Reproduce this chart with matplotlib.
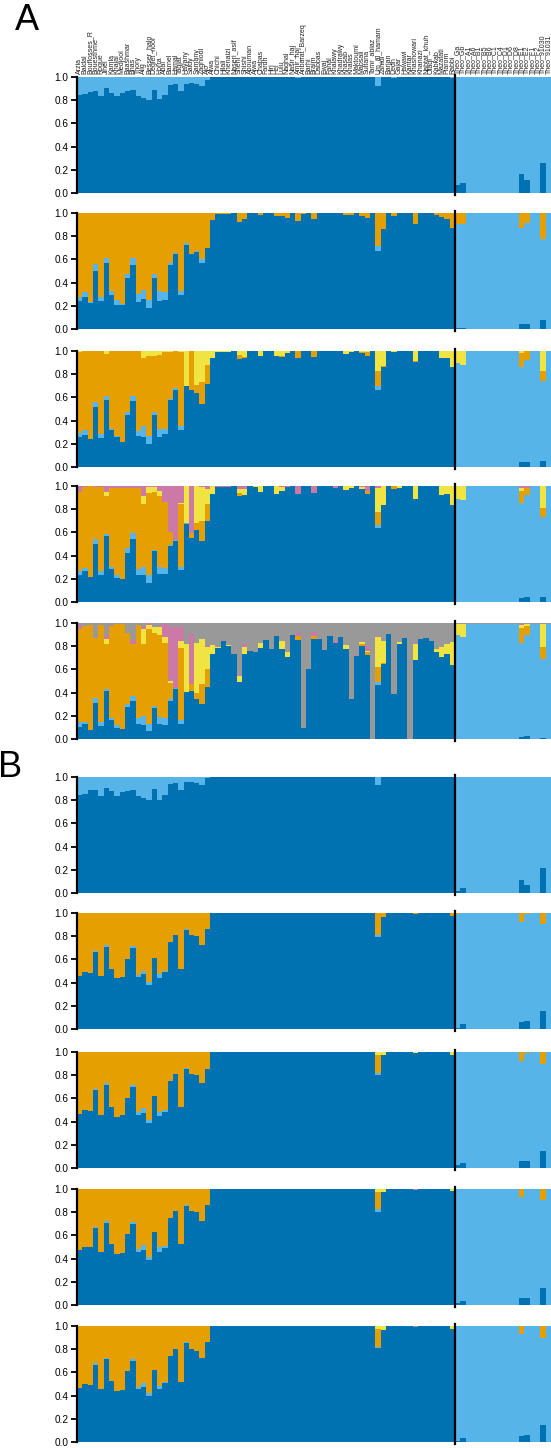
import numpy as np
import matplotlib
matplotlib.use("Agg")
import matplotlib.pyplot as plt

plt.rcParams['font.family'] = ['Liberation Sans', 'DejaVu Sans']

# Sample names (71 date palm cultivars + 18 P. theophrasti)
date_names = ["Arzia", "Baldal", "Bouflosses_R", "Bouesthme", "Rogue", "Jihel", "Kamla",
              "Khalal", "Medjool", "Baashmar", "Bhas", "Thory", "Alig", "Besser_halo",
              "Deglet_noor", "Horra", "Abal", "Barnel", "Hamal", "Tagjat", "Hayany", "Saidy",
              "Samany", "Zaghloul", "Ajo", "Alwa", "Chichi", "Hilali", "Khenaizi",
              "Naseri_asif", "Shehi", "Shishi", "Abouman", "Ajwa", "Chabas", "Fardh", "Hiri",
              "Hel", "Lulu", "Naghal", "Nasir_haj", "Amir_haj", "Anbarat_Barzeq", "Barhi",
              "Braim", "Dabbas", "Ewaj", "Fahal", "Khalawy", "Khadrawy", "Khasab", "Khalas",
              "Maktoumi", "Mabsali", "Sultana", "Tamr_abiaz", "Um_al_hamam", "Zahidi",
              "Barjan", "Dedh", "Gajar", "Hawawi", "Kantar", "Khashowari", "Khanazi",
              "Nabtat_khuh", "Otaqi", "Kabkab", "Mazafati", "Piarom", "Rabbi"]
theo_names = ["Theo_Ga", "Theo_Gb", "Theo_A1", "Theo_A6", "Theo_B1", "Theo_B5", "Theo_B6",
              "Theo_C1", "Theo_C4", "Theo_D1", "Theo_D6", "Theo_D8", "Theo_E1", "Theo_E2",
              "Theo_F1", "Theo_F2", "Theo_91030", "Theo_91031"]
names = date_names + theo_names
N_DATE = len(date_names)
N = len(names)

colors = ['#0072B2', '#56B4E9', '#E69F00', '#F0E442', '#CC79A7', '#999999']

# ---------------- A, K=2 ----------------
a1_dark = [0.843, 0.85, 0.87, 0.88, 0.833, 0.903, 0.86, 0.833, 0.86, 0.88,
           0.885, 0.833, 0.82, 0.80, 0.885, 0.81, 0.843, 0.93, 0.94, 0.88,
           0.94, 0.95, 0.94, 0.92, 0.97, 1, 1, 1, 1, 1,
           1, 1, 1, 1, 1, 1, 1, 1, 1, 1,
           1, 0.99, 1, 1, 1, 1, 1, 1, 1, 1,
           1, 1, 1, 1, 1, 1, 0.925, 1, 1, 0.99,
           1, 1, 1, 1, 1, 1, 1, 1, 1, 1,
           0.99,
           0.073, 0.09, 0, 0, 0, 0, 0, 0, 0, 0, 0, 0, 0.16, 0.11, 0, 0, 0.255, 0]

# ---------------- A, K=3 ----------------
a2_dark = [0.24, 0.28, 0.227, 0.50, 0.24, 0.57, 0.297, 0.21, 0.203, 0.436,
           0.55, 0.233, 0.26, 0.177, 0.438, 0.243, 0.252, 0.556, 0.643, 0.29,
           0.722, 0.643, 0.661, 0.565, 0.696, 0.939, 0.99, 0.995, 0.99, 1,
           0.925, 0.945, 1, 1, 0.985, 1, 1, 0.975, 0.97, 0.96,
           1, 0.935, 0.99, 1, 0.95, 1, 1, 1, 1, 1,
           0.985, 0.985, 1, 0.97, 0.96, 1, 0.67, 0.864, 1, 0.975,
           1, 1, 1, 0.906, 1, 1, 1, 0.985, 0.967, 0.95,
           0.87,
           0.01, 0.01, 0, 0, 0, 0, 0, 0, 0, 0, 0, 0, 0.04, 0.04, 0, 0, 0.08, 0]
a2_light_date = {0: 0.04, 1: 0.04, 2: 0.006, 3: 0.057, 4: 0.04, 5: 0.042, 6: 0.027,
                 7: 0.04, 8: 0.009, 9: 0.042, 10: 0.06, 11: 0.067, 12: 0.08, 13: 0.069,
                 14: 0.032, 15: 0.085, 16: 0.068, 17: 0.015, 18: 0.015, 19: 0.038,
                 20: 0.023, 22: 0.011, 23: 0.038, 56: 0.045}
a2_light_theo = [0.896, 0.896, 1, 1, 1, 1, 1, 1, 1, 1, 1, 1, 0.83, 0.875, 1, 1, 0.70, 1]

# ---------------- A, K=4 ----------------
a3_dark = [0.257, 0.276, 0.24, 0.518, 0.248, 0.58, 0.315, 0.257, 0.218, 0.445,
           0.57, 0.267, 0.257, 0.196, 0.447, 0.259, 0.282, 0.576, 0.663, 0.317,
           0.697, 0.663, 0.637, 0.542, 0.715, 0.94, 0.99, 0.99, 0.99, 1,
           0.931, 0.94, 1, 1, 0.96, 1, 1, 0.955, 0.95, 0.985,
           1, 0.94, 1, 1, 0.95, 1, 1, 1, 1, 1,
           0.97, 0.99, 1, 0.985, 0.955, 1, 0.667, 0.86, 1, 0.99,
           1, 1, 1, 0.905, 1, 1, 1, 1, 0.94, 0.94,
           0.864,
           0, 0, 0, 0, 0, 0, 0, 0, 0, 0, 0, 0, 0.04, 0.04, 0, 0, 0.05, 0]
a3_light_date = {0: 0.04, 1: 0.04, 3: 0.042, 4: 0.04, 5: 0.03, 6: 0.012, 7: 0.01,
                 9: 0.031, 10: 0.042, 11: 0.043, 12: 0.093, 13: 0.069, 14: 0.026,
                 15: 0.072, 16: 0.049, 17: 0.014, 18: 0.014, 19: 0.035, 56: 0.03}
a3_light_theo = [0.9, 0.88, 1, 1, 1, 1, 1, 1, 1, 1, 1, 1, 0.82, 0.88, 1, 1, 0.69, 1]
a3_orange = {0: 0.693, 1: 0.684, 2: 0.76, 3: 0.44, 4: 0.712, 5: 0.366, 6: 0.673,
             7: 0.733, 8: 0.782, 9: 0.524, 10: 0.388, 11: 0.69, 12: 0.59, 13: 0.695,
             14: 0.487, 15: 0.634, 16: 0.659, 17: 0.40, 18: 0.323, 19: 0.638,
             21: 0.337, 22: 0.069, 23: 0.19, 24: 0.164, 30: 0.037, 31: 0.005,
             38: 0.01, 41: 0.06, 44: 0.05, 53: 0.01, 54: 0.035, 56: 0.13, 57: 0.015,
             63: 0.005, 83: 0.12, 84: 0.08, 87: 0.09}

# ---------------- A, K=5 ----------------
a4_dark = [0.233, 0.267, 0.215, 0.5, 0.233, 0.567, 0.288, 0.203, 0.194, 0.424,
           0.545, 0.236, 0.236, 0.167, 0.437, 0.24, 0.245, 0.481, 0.527, 0.28,
           0.671, 0.556, 0.617, 0.527, 0.70, 0.934, 0.99, 0.995, 0.99, 1,
           0.916, 0.92, 1, 0.995, 0.95, 1, 1, 0.935, 0.955, 0.99,
           1, 0.933, 1, 1, 0.94, 1, 1, 1, 0.985, 1,
           0.965, 0.98, 1, 0.97, 0.935, 1, 0.642, 0.833, 1, 0.97,
           0.98, 1, 1, 0.888, 1, 1, 1, 1, 0.925, 0.934,
           0.84,
           0, 0, 0, 0, 0, 0, 0, 0, 0, 0, 0, 0, 0.035, 0.04, 0, 0, 0.04, 0]
a4_light_date = {0: 0.034, 1: 0.03, 3: 0.045, 4: 0.034, 5: 0.023, 6: 0.015, 7: 0.033,
                 9: 0.04, 10: 0.052, 11: 0.052, 12: 0.067, 13: 0.066, 14: 0.015,
                 15: 0.06, 16: 0.046, 17: 0.009, 18: 0.009, 19: 0.02, 20: 0.006, 56: 0.024}
a4_light_theo = [0.89, 0.88, 1, 1, 1, 1, 1, 1, 1, 1, 1, 1, 0.815, 0.885, 1, 1, 0.69, 1]
a4_orange = {0: 0.681, 1: 0.691, 2: 0.785, 3: 0.449, 4: 0.727, 5: 0.325, 6: 0.682,
             7: 0.749, 8: 0.791, 9: 0.515, 10: 0.382, 11: 0.691, 12: 0.545, 13: 0.707,
             14: 0.493, 15: 0.616, 16: 0.568, 17: 0.11, 19: 0.547, 21: 0.038, 22: 0.06,
             23: 0.168, 24: 0.147, 30: 0.024, 54: 0.025, 56: 0.106, 59: 0.03,
             83: 0.11, 84: 0.06, 87: 0.08}
a4_yellow = {5: 0.03, 12: 0.07, 13: 0.05, 14: 0.045, 15: 0.044, 16: 0.006, 19: 0.006,
             20: 0.323, 22: 0.323, 23: 0.30, 24: 0.127, 25: 0.066, 30: 0.036, 31: 0.055,
             33: 0.005, 34: 0.05, 37: 0.065, 38: 0.04, 50: 0.035, 51: 0.02, 53: 0.02,
             56: 0.212, 57: 0.167, 60: 0.02, 63: 0.112, 68: 0.075, 69: 0.066, 70: 0.16,
             71: 0.11, 72: 0.12, 83: 0.02, 87: 0.19}

# ---------------- A, K=6 ----------------
a5_dark = [0.105, 0.129, 0.079, 0.31, 0.114, 0.415, 0.164, 0.094, 0.085, 0.272,
           0.325, 0.126, 0.117, 0.067, 0.264, 0.128, 0.122, 0.33, 0.432, 0.133,
           0.406, 0.412, 0.348, 0.304, 0.446, 0.736, 0.783, 0.843, 0.806, 0.733,
           0.49, 0.731, 0.757, 0.751, 0.784, 0.854, 0.775, 0.886, 0.775, 0.708,
           0.895, 0.854, 0.096, 0.605, 0.86, 0.86, 0.763, 0.886, 0.825, 0.877,
           0.772, 0.342, 0.719, 0.798, 0.728, 0.0, 0.465, 0.649, 0.904, 0.386,
           0.816, 0.868, 0.0, 0.684, 0.86, 0.868, 0.842, 0.754, 0.705, 0.737,
           0.64,
           0, 0, 0, 0, 0, 0, 0, 0, 0, 0, 0, 0, 0.02, 0.03, 0, 0, 0.01, 0]
a5_light_date = {0: 0.041, 1: 0.017, 3: 0.04, 4: 0.032, 5: 0.015, 6: 0.017, 7: 0.023,
                 9: 0.032, 10: 0.045, 11: 0.055, 12: 0.079, 13: 0.062, 14: 0.023,
                 15: 0.06, 16: 0.055, 17: 0.015, 18: 0.01, 19: 0.032, 56: 0.026}
a5_light_theo = [0.895, 0.877, 0.99, 0.99, 0.99, 0.99, 0.99, 0.99, 0.99, 0.99, 0.99, 0.99,
                 0.807, 0.868, 0.99, 0.99, 0.68, 0.99]
a5_orange = {0: 0.801, 1: 0.825, 2: 0.903, 3: 0.518, 4: 0.836, 5: 0.39, 6: 0.79,
             7: 0.873, 8: 0.905, 9: 0.611, 10: 0.446, 11: 0.804, 12: 0.623, 13: 0.818,
             14: 0.626, 15: 0.708, 16: 0.649, 17: 0.139, 19: 0.618, 21: 0.058, 22: 0.049,
             23: 0.174, 24: 0.154, 41: 0.035, 44: 0.029, 53: 0.018, 54: 0.026, 56: 0.132,
             57: 0.009, 83: 0.129, 84: 0.079, 87: 0.099}
a5_yellow = {5: 0.04, 12: 0.128, 13: 0.038, 14: 0.049, 15: 0.066, 16: 0.052, 17: 0.016,
             19: 0.058, 20: 0.414, 22: 0.433, 23: 0.382, 24: 0.194, 25: 0.076, 26: 0.01,
             28: 0.006, 30: 0.052, 31: 0.058, 34: 0.041, 38: 0.067, 39: 0.038, 50: 0.035,
             53: 0.017, 54: 0.006, 56: 0.254, 57: 0.184, 60: 0.017, 63: 0.132, 67: 0.018,
             68: 0.084, 69: 0.079, 70: 0.193, 71: 0.095, 72: 0.113, 83: 0.026, 84: 0.013,
             87: 0.201}
a5_pink = {0: 0.035, 5: 0.035, 6: 0.015, 10: 0.038, 12: 0.03, 13: 0.015, 15: 0.008,
           16: 0.11, 17: 0.462, 18: 0.52, 19: 0.121, 21: 0.434, 24: 0.006, 30: 0.014,
           31: 0.027, 41: 0.029, 44: 0.031, 48: 0.017, 52: 0.005, 54: 0.038, 56: 0.009,
           57: 0.005, 63: 0.009, 83: 0.013, 87: 0.005}

# ---------------- B, K=2 ----------------
b1_dark = [0.847, 0.854, 0.884, 0.884, 0.84, 0.907, 0.877, 0.832, 0.869, 0.88,
           0.892, 0.832, 0.817, 0.802, 0.9, 0.802, 0.847, 0.94, 0.951, 0.884,
           0.955, 0.96, 0.951, 0.933, 0.99, 1, 1, 1, 1, 1,
           1, 1, 1, 1, 1, 1, 1, 1, 1, 1,
           1, 1, 1, 1, 1, 1, 1, 1, 1, 1,
           1, 1, 1, 1, 1, 1, 0.933, 1, 1, 1,
           1, 1, 1, 1, 1, 1, 1, 1, 1, 1,
           1,
           0.02, 0.04, 0, 0, 0, 0, 0, 0, 0, 0, 0, 0, 0.108, 0.067, 0, 0, 0.213, 0]

# ---------------- B, K=3 ----------------
b2_dark = [0.459, 0.489, 0.481, 0.664, 0.459, 0.709, 0.519, 0.437, 0.448, 0.604,
           0.694, 0.451, 0.47, 0.381, 0.616, 0.44, 0.489, 0.746, 0.813, 0.519,
           0.85, 0.81, 0.80, 0.728, 0.858, 1, 1, 1, 1, 1,
           1, 1, 1, 1, 1, 1, 1, 1, 1, 1,
           1, 1, 1, 1, 1, 1, 1, 1, 1, 1,
           1, 1, 1, 1, 1, 1, 0.795, 0.963, 1, 1,
           1, 1, 1, 0.993, 1, 1, 1, 1, 1, 1,
           0.97,
           0.01, 0.04, 0, 0, 0, 0, 0, 0, 0, 0, 0, 0, 0.06, 0.067, 0, 0, 0.153, 0]
b2_light_date = {3: 0.011, 5: 0.019, 10: 0.019, 11: 0.015, 12: 0.034, 13: 0.026,
                 15: 0.034, 16: 0.011, 20: 0.01, 56: 0.018}
b2_light_theo = [0.98, 0.96, 1, 1, 1, 1, 1, 1, 1, 1, 1, 1, 0.865, 0.928, 1, 1, 0.75, 1]

# ---------------- B, K=4 ----------------
b3_dark = [0.463, 0.496, 0.489, 0.674, 0.459, 0.715, 0.53, 0.44, 0.456, 0.607,
           0.696, 0.459, 0.47, 0.389, 0.622, 0.444, 0.48, 0.748, 0.81, 0.526,
           0.85, 0.81, 0.80, 0.73, 0.855, 1, 1, 1, 1, 1,
           1, 1, 1, 1, 1, 1, 1, 1, 1, 1,
           1, 1, 1, 1, 1, 1, 1, 1, 1, 1,
           1, 1, 1, 1, 1, 1, 0.804, 0.97, 1, 1,
           1, 1, 1, 0.99, 1, 1, 1, 1, 1, 1,
           0.974,
           0.03, 0.044, 0, 0, 0, 0, 0, 0, 0, 0, 0, 0, 0.063, 0.063, 0, 0, 0.148, 0]
b3_light_date = {3: 0.011, 5: 0.015, 10: 0.022, 11: 0.022, 12: 0.048, 13: 0.026,
                 15: 0.037, 16: 0.022, 20: 0.011, 56: 0.011}
b3_light_theo = [0.97, 0.956, 1, 1, 1, 1, 1, 1, 1, 1, 1, 1, 0.859, 0.932, 1, 1, 0.752, 1]
b3_orange = {0: 0.537, 1: 0.504, 2: 0.511, 3: 0.315, 4: 0.541, 5: 0.27, 6: 0.47,
             7: 0.56, 8: 0.544, 9: 0.393, 10: 0.282, 11: 0.519, 12: 0.482, 13: 0.585,
             14: 0.378, 15: 0.519, 16: 0.498, 17: 0.252, 18: 0.19, 19: 0.474, 20: 0.139,
             21: 0.19, 22: 0.20, 23: 0.27, 24: 0.145, 56: 0.155, 83: 0.078, 84: 0.005,
             87: 0.1}

# ---------------- B, K=5 ----------------
b4_dark = [0.47, 0.5, 0.496, 0.664, 0.459, 0.709, 0.522, 0.44, 0.448, 0.608,
           0.694, 0.459, 0.47, 0.392, 0.627, 0.459, 0.489, 0.746, 0.813, 0.522,
           0.851, 0.813, 0.802, 0.728, 0.858, 1, 1, 1, 1, 1,
           1, 1, 1, 1, 1, 1, 1, 1, 1, 1,
           1, 1, 1, 1, 1, 1, 1, 1, 1, 1,
           1, 1, 1, 1, 1, 1, 0.806, 0.97, 1, 1,
           1, 1, 1, 0.99, 1, 1, 1, 1, 1, 1,
           0.98,
           0.02, 0.037, 0, 0, 0, 0, 0, 0, 0, 0, 0, 0, 0.06, 0.06, 0, 0, 0.15, 0]
b4_light_date = {3: 0.011, 5: 0.015, 10: 0.02, 11: 0.02, 12: 0.045, 13: 0.026,
                 15: 0.037, 16: 0.02, 20: 0.01, 56: 0.019}
b4_light_theo = [0.98, 0.963, 1, 1, 1, 1, 1, 1, 1, 1, 1, 1, 0.873, 0.94, 1, 1, 0.757, 1]
b4_orange = {0: 0.53, 1: 0.5, 2: 0.504, 3: 0.325, 4: 0.541, 5: 0.276, 6: 0.478,
             7: 0.56, 8: 0.552, 9: 0.392, 10: 0.286, 11: 0.521, 12: 0.485, 13: 0.582,
             14: 0.373, 15: 0.504, 16: 0.491, 17: 0.254, 18: 0.187, 19: 0.478, 20: 0.139,
             21: 0.187, 22: 0.198, 23: 0.272, 24: 0.142, 56: 0.145, 83: 0.067, 87: 0.093}
b4_yellow = {56: 0.03, 57: 0.03, 70: 0.02}

# ---------------- B, K=6 ----------------
b5_dark = [0.463, 0.496, 0.489, 0.668, 0.459, 0.716, 0.522, 0.436, 0.448, 0.612,
           0.701, 0.459, 0.478, 0.396, 0.619, 0.459, 0.507, 0.739, 0.806, 0.515,
           0.851, 0.806, 0.787, 0.724, 0.858, 1, 1, 1, 1, 1,
           1, 1, 1, 1, 1, 1, 1, 1, 1, 1,
           1, 1, 1, 1, 1, 1, 1, 1, 1, 1,
           1, 1, 1, 1, 1, 1, 0.81, 0.963, 1, 1,
           1, 1, 1, 0.99, 1, 1, 1, 1, 1, 1,
           0.975,
           0.01, 0.035, 0, 0, 0, 0, 0, 0, 0, 0, 0, 0, 0.05, 0.06, 0, 0, 0.146, 0]
b5_light_date = {3: 0.011, 5: 0.011, 10: 0.015, 11: 0.015, 12: 0.03, 13: 0.026,
                 15: 0.022, 16: 0.011, 20: 0.011, 56: 0.01}
b5_light_theo = [0.99, 0.965, 1, 1, 1, 1, 1, 1, 1, 1, 1, 1, 0.88, 0.94, 1, 1, 0.754, 1]
b5_orange = {0: 0.537, 1: 0.504, 2: 0.511, 3: 0.321, 4: 0.541, 5: 0.273, 6: 0.478,
             7: 0.564, 8: 0.552, 9: 0.388, 10: 0.284, 11: 0.526, 12: 0.492, 13: 0.578,
             14: 0.381, 15: 0.519, 16: 0.482, 17: 0.261, 18: 0.194, 19: 0.485, 20: 0.138,
             21: 0.194, 22: 0.213, 23: 0.276, 24: 0.142, 56: 0.15, 83: 0.07, 87: 0.1}
b5_yellow = {56: 0.03, 57: 0.037, 70: 0.025}
b5_pink = {}


def vec(d, theo=None):
    v = np.zeros(N)
    for i, val in d.items():
        v[i] = val
    if theo is not None:
        v[N_DATE:] = theo
    return v


# layers bottom-up; the last cluster of each run is what is left up to 1
panels = [
    [np.array(a1_dark, float)],
    [np.array(a2_dark, float), vec(a2_light_date, a2_light_theo)],
    [np.array(a3_dark, float), vec(a3_light_date, a3_light_theo), vec(a3_orange)],
    [np.array(a4_dark, float), vec(a4_light_date, a4_light_theo), vec(a4_orange),
     vec(a4_yellow)],
    [np.array(a5_dark, float), vec(a5_light_date, a5_light_theo), vec(a5_orange),
     vec(a5_yellow), vec(a5_pink)],
    [np.array(b1_dark, float)],
    [np.array(b2_dark, float), vec(b2_light_date, b2_light_theo)],
    [np.array(b3_dark, float), vec(b3_light_date, b3_light_theo), vec(b3_orange)],
    [np.array(b4_dark, float), vec(b4_light_date, b4_light_theo), vec(b4_orange),
     vec(b4_yellow)],
    [np.array(b5_dark, float), vec(b5_light_date, b5_light_theo), vec(b5_orange),
     vec(b5_yellow), vec(b5_pink)],
]

W, H = 551, 1448
fig = plt.figure(figsize=(W / 100, H / 100), dpi=100)
tops = [77, 213, 351, 486, 623, 777, 913, 1052, 1189, 1326]
ph = 116
x = np.arange(N)

for p, (layers, top) in enumerate(zip(panels, tops)):
    ax = fig.add_axes([77 / W, 1 - (top + ph) / H, (W - 77) / W, ph / H])
    rest = np.clip(1 - np.sum(layers, axis=0), 0, None)
    stack = list(layers) + [rest]
    bottom = np.zeros(N)
    for k, h in enumerate(stack):
        ax.bar(x, h, bottom=bottom, width=1.0, color=colors[k], linewidth=0,
               antialiased=False)
        bottom = bottom + h
    ax.set_xlim(-0.5, N - 0.5)
    ax.set_ylim(0, 1)
    ax.set_yticks([0, 0.2, 0.4, 0.6, 0.8, 1.0])
    ax.set_yticklabels(['0.0', '0.2', '0.4', '0.6', '0.8', '1.0'])
    for s in ['top', 'right', 'bottom']:
        ax.spines[s].set_visible(False)
    ax.spines['left'].set_linewidth(1.6)
    ax.tick_params(axis='y', length=4, width=1.3, labelsize=7.2, pad=2)
    ax.axvline(N_DATE - 0.5, ymin=-0.02, ymax=1.02, color='black', lw=1.6,
               clip_on=False)
    if p == 0:
        ax.set_xticks(x)
        ax.set_xticklabels(names, rotation=90, fontsize=5, color='#222222')
        ax.tick_params(axis='x', length=0, pad=2, top=True, bottom=False,
                       labeltop=True, labelbottom=False)
    else:
        ax.set_xticks([])

fig.text(27 / W, 1 - 21 / H, 'A', fontsize=26, ha='center', va='center')
fig.text(10 / W, 1 - 767 / H, 'B', fontsize=26, ha='center', va='center')

fig.savefig('out.png', dpi=100)
